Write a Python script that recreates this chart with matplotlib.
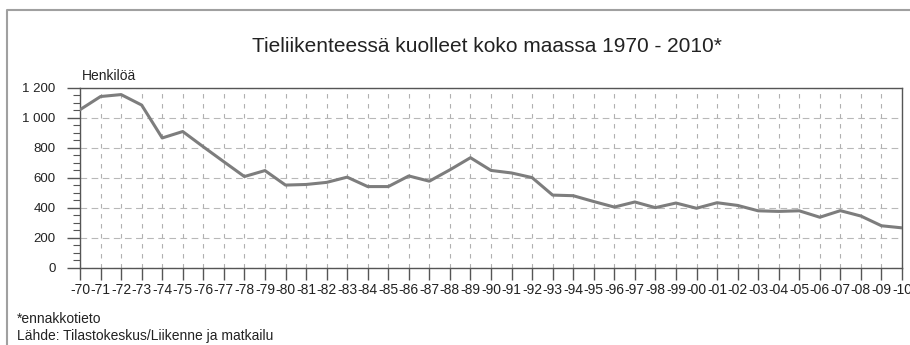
import matplotlib
matplotlib.use("Agg")
import matplotlib.pyplot as plt
from matplotlib.ticker import MultipleLocator, FuncFormatter
from matplotlib.lines import Line2D

plt.rcParams['font.family'] = ['Liberation Sans', 'DejaVu Sans']

# Tieliikenteessä kuolleet 1970-2010 (2010 ennakkotieto)
vuodet = list(range(1970, 2011))
kuolleet = [1055, 1143, 1156, 1086, 866, 909, 807, 707, 608, 648,
            551, 555, 569, 604, 541, 541, 612, 577, 653, 734,
            649, 632, 601, 484, 480, 441, 404, 438, 400, 431,
            396, 433, 415, 379, 375, 379, 336, 380, 344, 279,
            265]
x_labels = ['-' + str(v)[2:] for v in vuodet]

W, H = 910, 345
fig = plt.figure(figsize=(W / 100, H / 100), dpi=100)
ax = fig.add_axes([80 / W, 1 - 267.5 / H, (902 - 80) / W, (267.5 - 88) / H])

ax.plot(vuodet, kuolleet, color='#7d7d7d', lw=2.2, zorder=3)

ax.set_xlim(1970, 2010)
ax.set_ylim(0, 1200)
ax.set_xticks(vuodet)
ax.set_xticklabels(x_labels, fontsize=10, color='#222222')
ax.yaxis.set_major_locator(MultipleLocator(200))
ax.yaxis.set_minor_locator(MultipleLocator(50))
ax.yaxis.set_major_formatter(FuncFormatter(lambda v, p: f"{int(v):,}".replace(',', ' ')))
ax.tick_params(axis='y', which='major', length=9.5, width=1, color='#555555',
               labelsize=9.5, labelcolor='#222222', pad=8)
ax.tick_params(axis='y', which='minor', length=5, width=0.8, color='#555555')
ax.tick_params(axis='x', which='major', length=8.5, width=1, color='#555555', pad=3)

# katkoviivaruudukko
ax.grid(axis='x', color='#b0b0b0', lw=0.8, linestyle=(0, (4, 5)))
ax.grid(axis='y', color='#b8b8b8', lw=0.8, linestyle=(0, (6, 4)))
ax.set_axisbelow(True)

for s in ax.spines.values():
    s.set_color('#555555')
    s.set_linewidth(1)

fig.text(487 / W, 1 - 47 / H, 'Tieliikenteessä kuolleet koko maassa 1970 - 2010*',
         ha='center', va='center', fontsize=15, color='#222222')
fig.text(82 / W, 1 - 76 / H, 'Henkilöä', ha='left', va='center', fontsize=10, color='#222222')
fig.text(17 / W, 1 - 319 / H, '*ennakkotieto', ha='left', va='center', fontsize=10, color='#222222')
fig.text(17 / W, 1 - 336 / H, 'Lähde: Tilastokeskus/Liikenne ja matkailu', ha='left', va='center',
         fontsize=10, color='#222222')

# kehys
fig.add_artist(Line2D([7 / W, 7 / W, 1], [0, 1 - 10 / H, 1 - 10 / H],
                      transform=fig.transFigure, color='#a0a0a0', lw=1.5))

fig.savefig('out.png', dpi=100)
